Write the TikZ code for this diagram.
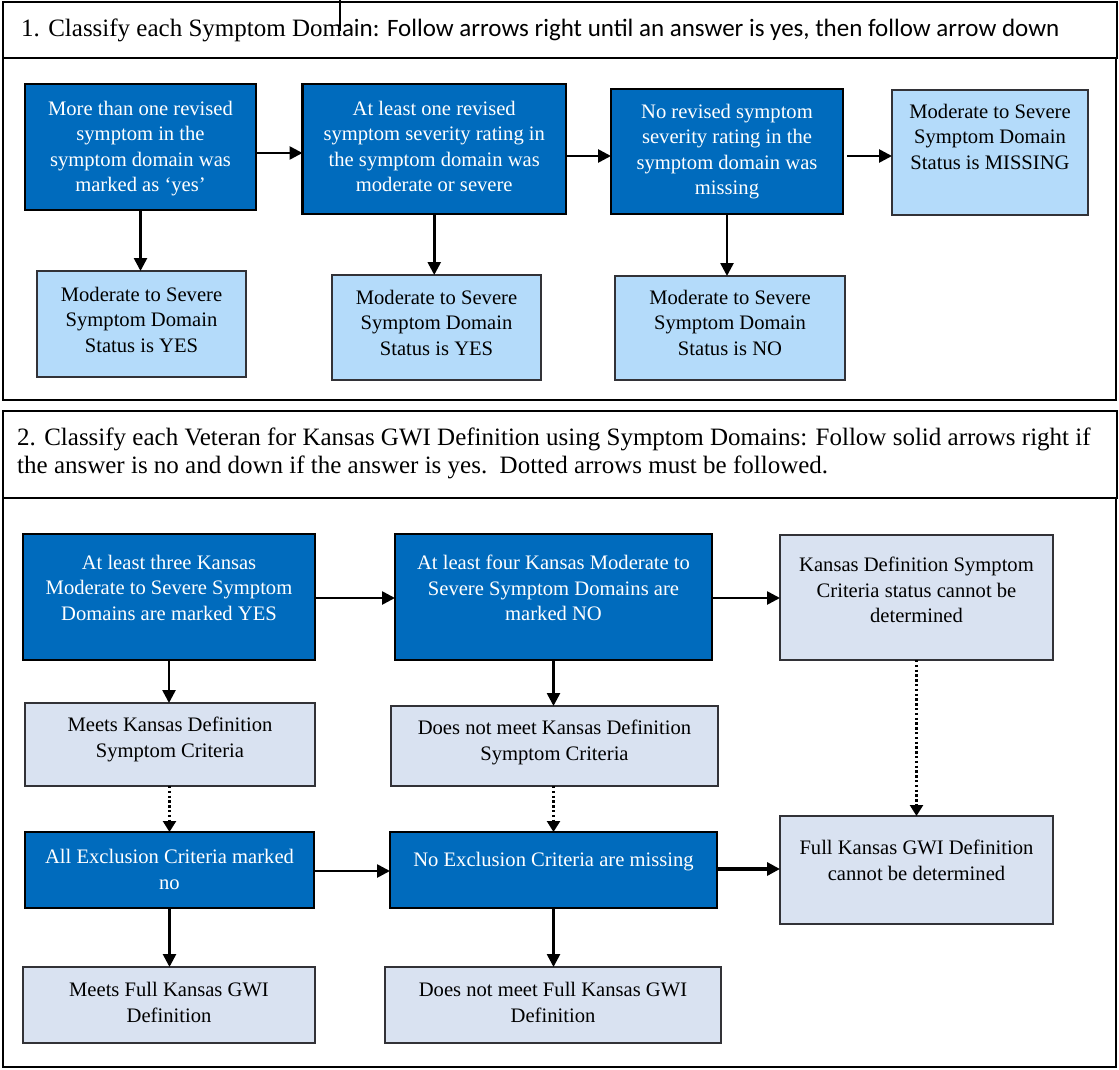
\documentclass[tikz,border=0pt]{standalone}
\usepackage{fontspec}
\setmainfont{Liberation Serif}
\newfontfamily\hdsans{Carlito}
\usetikzlibrary{arrows.meta}

\definecolor{deepblue}{RGB}{0,107,189}
\definecolor{paleblue}{RGB}{180,219,250}
\definecolor{palegrey}{RGB}{217,226,241}
\definecolor{edgegrey}{RGB}{50,50,55}

\tikzset{
  box/.style={anchor=north west, inner sep=0pt, outer sep=0pt},
  qbox/.style={box, fill=deepblue, draw=black, line width=2.8pt},
  abox/.style={box, fill=paleblue, draw=edgegrey, line width=1.5pt},
  gbox/.style={box, fill=palegrey, draw=edgegrey, line width=1.5pt},
  lbl/.style={anchor=north, inner sep=0pt, align=center,
              font=\fontsize{20.6}{25.5}\selectfont},
  qlbl/.style={lbl, text=white},
  arr/.style={line width=2.6pt, -{Triangle[length=13pt,width=13pt]}},
  darr/.style={line width=2.4pt, dash pattern=on 2.4pt off 2.4pt,
               -{Triangle[length=11pt,width=13pt]}},
  thinframe/.style={draw=black, line width=1.2pt},
  thickframe/.style={draw=black, line width=2.6pt},
  hdtext/.style={anchor=base west, inner sep=0pt, font=\fontsize{25}{30}\selectfont},
}

\begin{document}
\begin{tikzpicture}[x=1pt, y=-1pt]
\useasboundingbox (0,0) rectangle (1119,1070);
\fill[white] (0,0) rectangle (1119,1070);

% ---------- frames and headings ----------
\draw[thinframe] (3,2) rectangle (1117,58);
\draw[thinframe] (340,0) -- (340,31);
\draw[thickframe] (3,58) rectangle (1116,400);
\draw[thinframe, line width=1.6pt] (3,411) rectangle (1117,498);
\draw[thickframe] (3,498) rectangle (1116,1067);

\node[hdtext] (h1) at (21,37) {1. Classify each Symptom Dom{\hdsans ain: Follow arrows right until an answer is yes, then follow arrow down}};
\node[hdtext] (h2a) at (17,445) {2. Classify each Veteran for Kansas GWI Definition using Symptom Domains: Follow solid arrows right if};
\node[hdtext] (h2b) at (17,473) {the answer is no and down if the answer is yes.\ \ Dotted arrows must be followed.};

% ---------- part 1: symptom domain status ----------
\node[qbox, minimum width=231pt, minimum height=126pt] (a1) at (25,84) {};
\node[qbox, minimum width=263.5pt, minimum height=130pt] (a2) at (302.5,84) {};
\node[qbox, minimum width=232pt, minimum height=125pt] (a3) at (611,89) {};
\node[abox, minimum width=196pt, minimum height=125pt] (a4) at (892,90) {};
\node[abox, minimum width=209pt, minimum height=106pt] (b1) at (37,271) {};
\node[abox, minimum width=209pt, minimum height=105pt] (b2) at (332,275) {};
\node[abox, minimum width=230pt, minimum height=104pt] (b3) at (615,276) {};

\node[qlbl, yshift=-17pt] at (a1.north) {More than one revised\\symptom in the\\symptom domain was\\marked as ‘yes’};
\node[qlbl, yshift=-17pt] at (a2.north) {At least one revised\\symptom severity rating in\\the symptom domain was\\moderate or severe};
\node[qlbl, yshift=-15pt] at (a3.north) {No revised symptom\\severity rating in the\\symptom domain was\\missing};
\node[lbl, yshift=-14pt] at (a4.north) {Moderate to Severe\\Symptom Domain\\Status is MISSING};
\node[lbl, yshift=-16pt] at (b1.north) {Moderate to Severe\\Symptom Domain\\Status is YES};
\node[lbl, yshift=-15pt] at (b2.north) {Moderate to Severe\\Symptom Domain\\Status is YES};
\node[lbl, yshift=-14pt] at (b3.north) {Moderate to Severe\\Symptom Domain\\Status is NO};

\draw[arr] (a1.east |- 0,153) -- (a2.west |- 0,153);
\draw[arr] (a2.east |- 0,156) -- (a3.west |- 0,156);
\draw[arr] ([xshift=4pt]a3.east |- 0,156) -- (a4.west |- 0,156);
\draw[arr] (a1.south) -- (b1.north -| a1.south);
\draw[arr] (a2.south) -- (b2.north -| a2.south);
\draw[arr] (a3.south) -- (b3.north -| a3.south);

% ---------- part 2: Kansas GWI definition ----------
\node[qbox, minimum width=292pt, minimum height=126pt] (c1) at (23,534) {};
\node[qbox, minimum width=317pt, minimum height=126pt] (c2) at (395,534) {};
\node[gbox, minimum width=273pt, minimum height=125pt] (c3) at (780,535) {};
\node[gbox, minimum width=290pt, minimum height=83pt] (d1) at (25,703) {};
\node[gbox, minimum width=327pt, minimum height=80pt] (d2) at (391,706) {};
\node[qbox, minimum width=289pt, minimum height=76pt] (e1) at (25,832) {};
\node[qbox, minimum width=327pt, minimum height=76pt] (e2) at (390,832) {};
\node[gbox, minimum width=273pt, minimum height=108pt] (e3) at (780,816) {};
\node[gbox, minimum width=292pt, minimum height=76pt] (f1) at (23,967) {};
\node[gbox, minimum width=336pt, minimum height=76pt] (f2) at (385,967) {};

\node[qlbl, yshift=-21pt] at (c1.north) {At least three Kansas\\Moderate to Severe Symptom\\Domains are marked YES};
\node[qlbl, yshift=-21pt] at (c2.north) {At least four Kansas Moderate to\\Severe Symptom Domains are\\marked NO};
\node[lbl, yshift=-22pt] at (c3.north) {Kansas Definition Symptom\\Criteria status cannot be\\determined};
\node[lbl, yshift=-14pt] at (d1.north) {Meets Kansas Definition\\Symptom Criteria};
\node[lbl, yshift=-14pt] at (d2.north) {Does not meet Kansas Definition\\Symptom Criteria};
\node[qlbl, yshift=-17pt] at (e1.north) {All Exclusion Criteria marked\\no};
\node[qlbl, yshift=-20pt] at (e2.north) {No Exclusion Criteria are missing};
\node[lbl, yshift=-24pt] at (e3.north) {Full Kansas GWI Definition\\cannot be determined};
\node[lbl, yshift=-15pt] at (f1.north) {Meets Full Kansas GWI\\Definition};
\node[lbl, yshift=-15pt] at (f2.north) {Does not meet Full Kansas GWI\\Definition};

\draw[arr] (c1.east |- 0,598) -- (c2.west |- 0,598);
\draw[arr] (c2.east |- 0,598) -- (c3.west |- 0,598);
\draw[arr] (e1.east |- 0,871) -- (e2.west |- 0,871);
\draw[arr, line width=3.2pt] (e2.east |- 0,869) -- (e3.west |- 0,869);
\draw[arr] (c1.south) -- (d1.north -| c1.south);
\draw[arr] (c2.south) -- (d2.north -| c2.south);
\draw[arr] (e1.south) -- (f1.north -| e1.south);
\draw[arr] (e2.south) -- (f2.north -| e2.south);
\draw[darr] (d1.south -| e1.north) -- (e1.north);
\draw[darr] (d2.south -| e2.north) -- (e2.north);
\draw[darr] (c3.south) -- (e3.north);
\end{tikzpicture}
\end{document}
